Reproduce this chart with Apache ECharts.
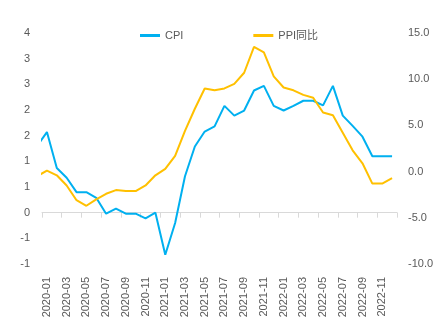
<!DOCTYPE html>
<html><head><meta charset="utf-8">
<script src="https://cdn.jsdelivr.net/npm/echarts@6/dist/echarts.min.js"></script>
<style>html,body{margin:0;padding:0;background:#fff}#c{width:444px;height:329px}</style>
</head><body><div id="c"></div>
<script>
// periods include the preceding month (2019-12), whose segment is clipped at the plot edge
const periods = ['2019-12',
 '2020-01','2020-02','2020-03','2020-04','2020-05','2020-06','2020-07','2020-08','2020-09','2020-10','2020-11','2020-12',
 '2021-01','2021-02','2021-03','2021-04','2021-05','2021-06','2021-07','2021-08','2021-09','2021-10','2021-11','2021-12',
 '2022-01','2022-02','2022-03','2022-04','2022-05','2022-06','2022-07','2022-08','2022-09','2022-10','2022-11','2022-12'];
const cpi = [1.30,
 1.57,0.87,0.68,0.40,0.40,0.29,-0.02,0.08,-0.02,-0.02,-0.11,0.00,
 -0.82,-0.20,0.71,1.29,1.58,1.68,2.08,1.89,1.99,2.38,2.47,2.08,
 1.99,2.08,2.18,2.18,2.09,2.47,1.89,1.69,1.48,1.10,1.10,1.10];
const ppi = [-0.5,
 0.1,-0.4,-1.5,-3.1,-3.7,-3.0,-2.4,-2.0,-2.1,-2.1,-1.5,-0.4,
 0.3,1.7,4.4,6.8,9.0,8.8,9.0,9.5,10.7,13.5,12.9,10.3,
 9.1,8.8,8.3,8.0,6.4,6.1,4.2,2.3,0.9,-1.3,-1.3,-0.7];
const seriesNames = ['CPI','PPI同比'];
const leftTicks = {min:-1, max:3.5, interval:0.5};
const rightTicks = {min:-10, max:15, interval:5};

const categories = periods.slice(1);
const pos = v => periods.indexOf(v) - 1;
const cpiData = periods.map((p,i)=>[pos(p), cpi[i]]);
const ppiData = periods.map((p,i)=>[pos(p), ppi[i]]);

const txt = '#595959', axisCol = '#d9d9d9';
const font = "'Liberation Sans','Noto Sans CJK SC',sans-serif";
const roundAway = v => { const r = Math.sign(v)*Math.round(Math.abs(v)); return String(r === 0 ? 0 : r); };

const chart = echarts.init(document.getElementById('c'), null, {renderer:'canvas'});
chart.setOption({
  animation:false,
  textStyle:{fontFamily:font},
  legend:{
    data:seriesNames, left:135, top:25, itemGap:70, itemWidth:20, itemHeight:3, icon:'rect',
    textStyle:{color:txt, fontSize:11, fontFamily:font}
  },
  grid:{left:42, right:47, top:33, bottom:65},
  xAxis:[
    {type:'category', data:categories, boundaryGap:true, position:'bottom',
     axisLine:{show:true, onZero:true, onZeroAxisIndex:0, lineStyle:{color:axisCol, width:1}},
     axisTick:{show:true, interval:1, length:5, lineStyle:{color:axisCol}},
     axisLabel:{show:false}, splitLine:{show:false}},
    {type:'category', data:categories, boundaryGap:true, position:'bottom',
     axisLine:{show:false, onZero:false}, axisTick:{show:false},
     axisLabel:{show:true, interval:1, rotate:90, margin:13, color:txt, fontSize:11, fontFamily:font},
     splitLine:{show:false}},
    {type:'value', min:-0.5, max:categories.length-0.5, show:false, position:'bottom',
     axisLine:{onZero:false}, splitLine:{show:false}}
  ],
  yAxis:[
    {type:'value', position:'left', min:leftTicks.min, max:leftTicks.max, interval:leftTicks.interval,
     axisLine:{show:false}, axisTick:{show:false}, splitLine:{show:false},
     axisLabel:{color:txt, fontSize:11, margin:12, fontFamily:font, formatter:roundAway}},
    {type:'value', position:'right', min:rightTicks.min, max:rightTicks.max, interval:rightTicks.interval,
     axisLine:{show:false}, axisTick:{show:false}, splitLine:{show:false},
     axisLabel:{color:txt, fontSize:11, margin:11, fontFamily:font, formatter:v=>v.toFixed(1)}}
  ],
  series:[
    {name:seriesNames[0], type:'line', xAxisIndex:2, yAxisIndex:0, data:cpiData, symbol:'none', clip:true,
     lineStyle:{color:'#00B0F0', width:2}, itemStyle:{color:'#00B0F0'}},
    {name:seriesNames[1], type:'line', xAxisIndex:2, yAxisIndex:1, data:ppiData, symbol:'none', clip:true,
     lineStyle:{color:'#FFC000', width:2}, itemStyle:{color:'#FFC000'}}
  ]
});
</script></body></html>
